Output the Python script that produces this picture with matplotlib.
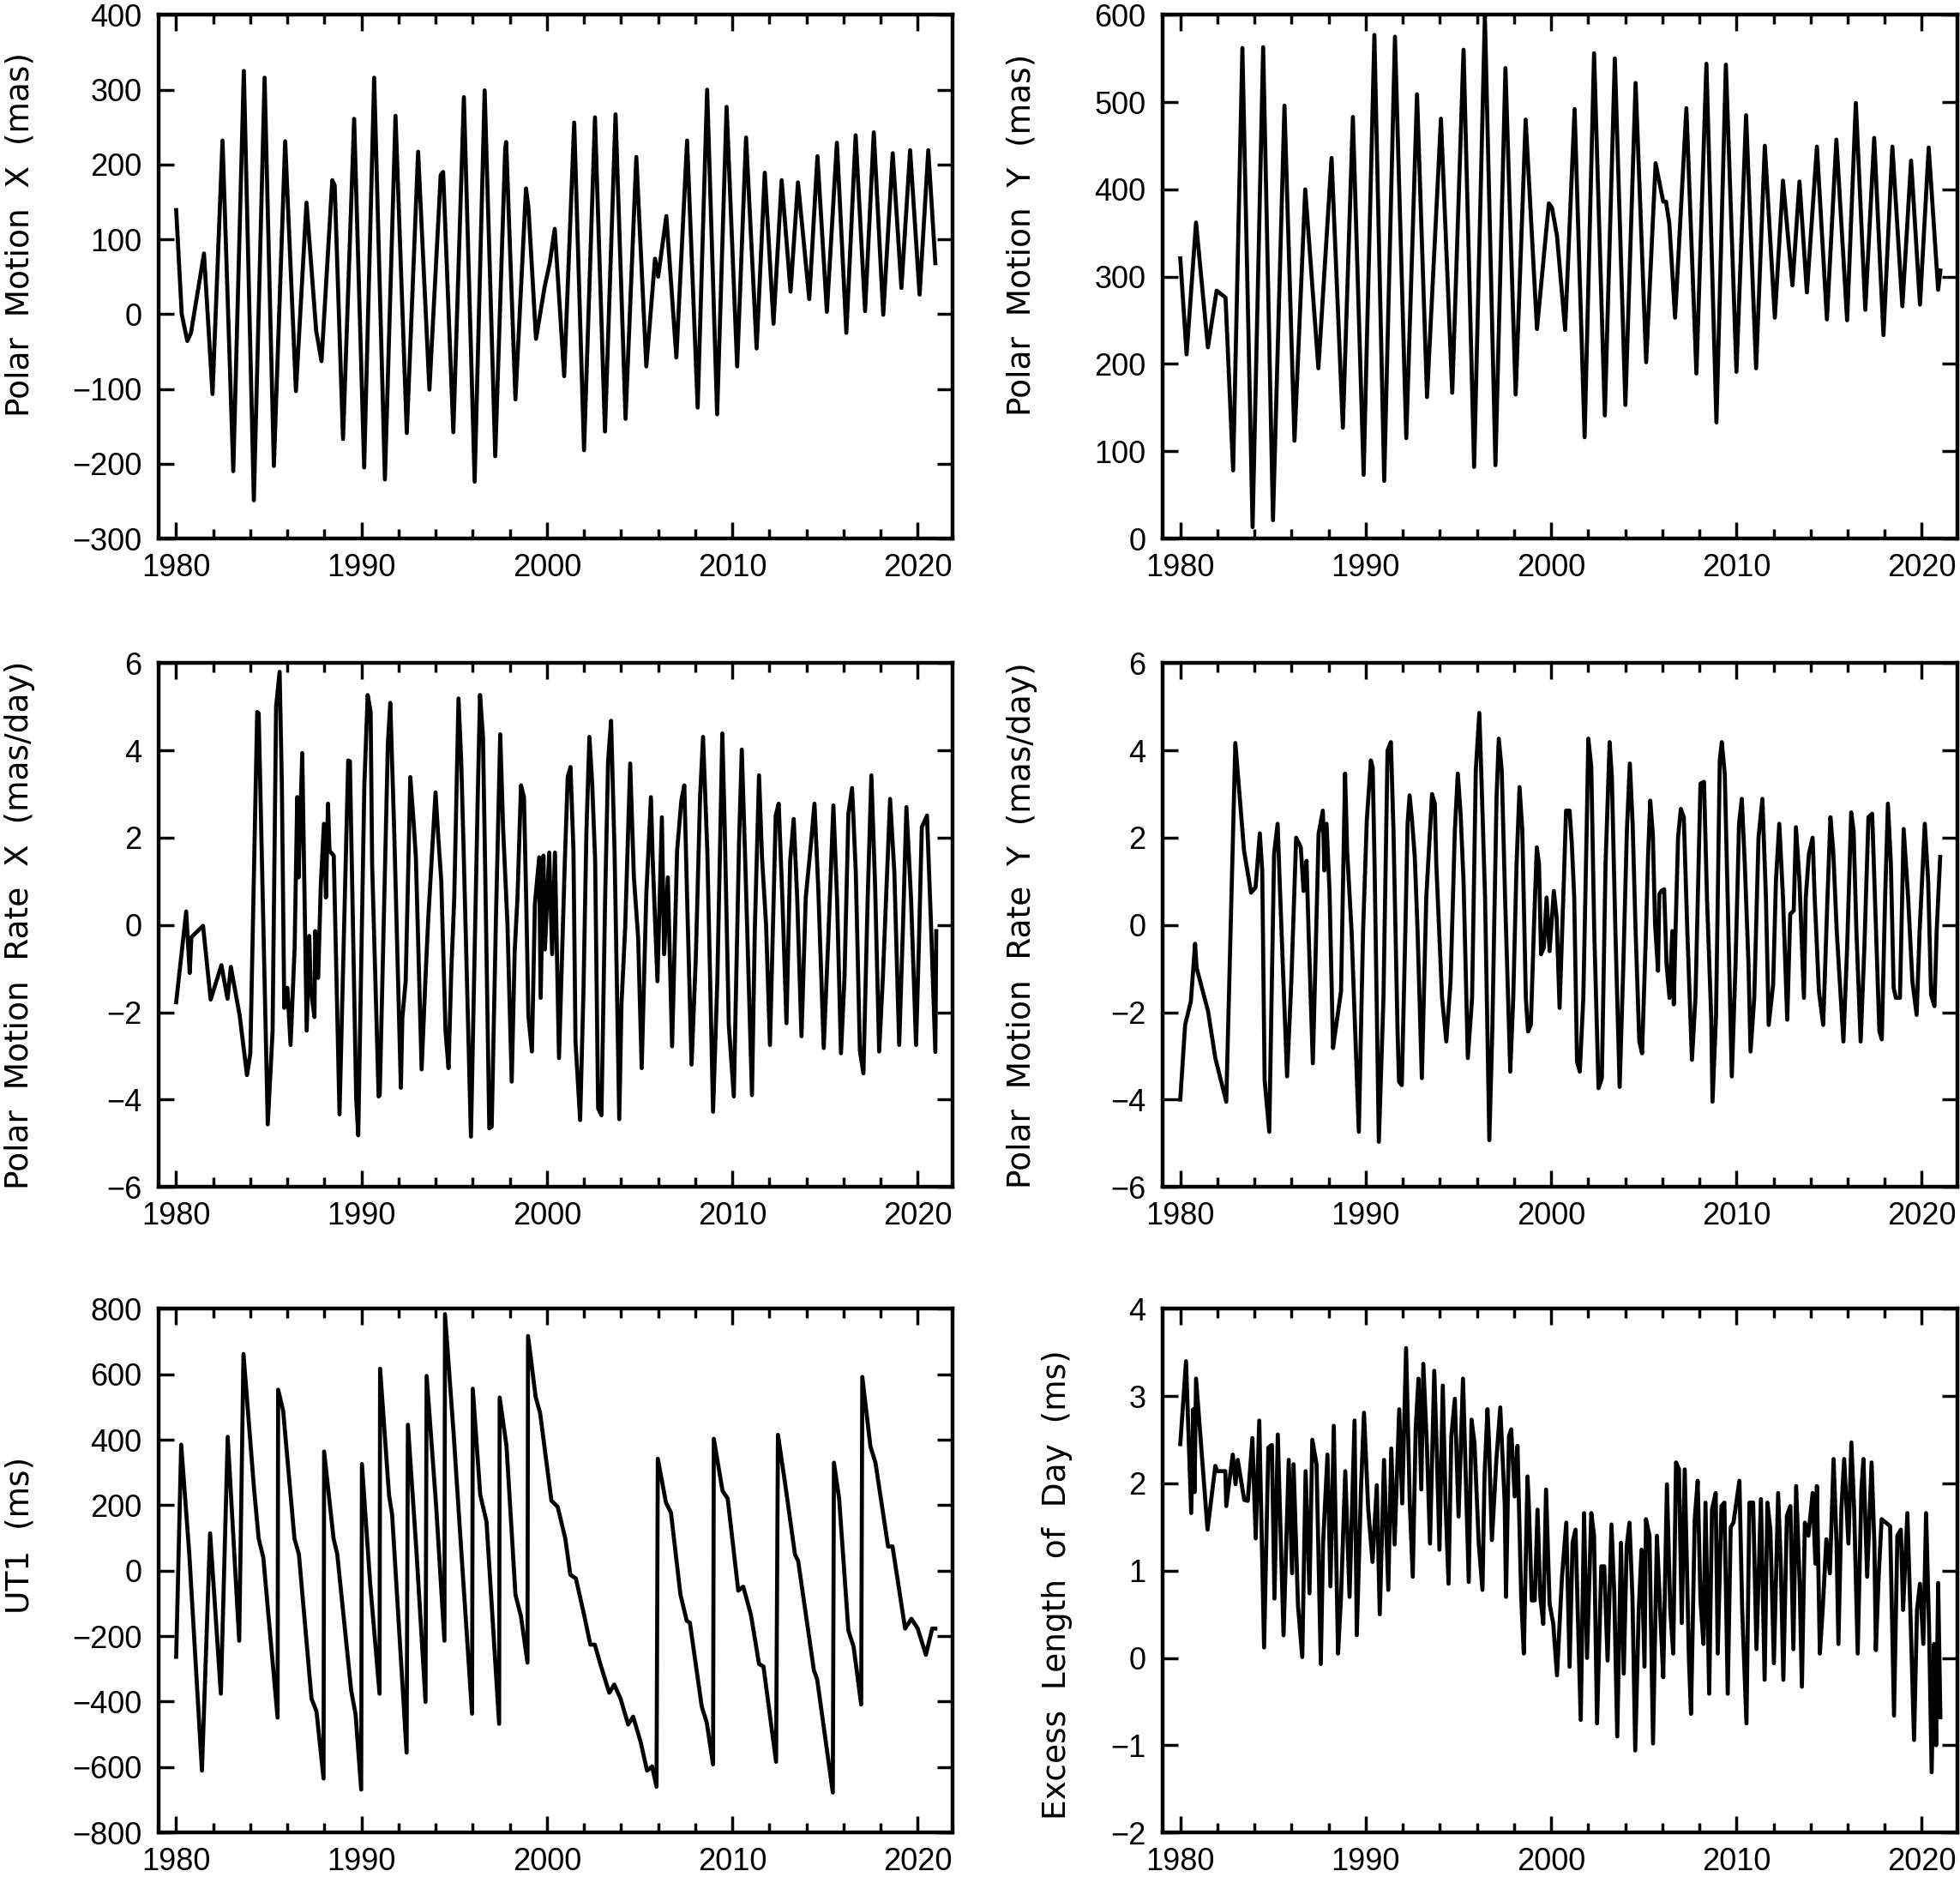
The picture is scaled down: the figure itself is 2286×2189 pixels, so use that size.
import matplotlib
matplotlib.use("Agg")
import matplotlib.pyplot as plt
from matplotlib import font_manager
from matplotlib.ticker import MultipleLocator

# Polar motion X (mas), extrema
pmx_t = [1980.0, 1980.3, 1980.6, 1980.8, 1981.5, 1981.96, 1982.5, 1983.08, 1983.65, 1984.19,
         1984.77, 1985.27, 1985.88, 1986.46, 1987.03, 1987.55, 1987.84, 1988.42, 1988.55, 1989.0,
         1989.6, 1990.14, 1990.68, 1991.26, 1991.83, 1992.44, 1993.05, 1993.66, 1994.27, 1994.4,
         1994.95, 1995.52, 1996.1, 1996.64, 1997.21, 1997.75, 1997.8, 1998.3, 1998.87, 1999.0,
         1999.41, 1999.88, 2000.15, 2000.42, 2000.93, 2001.47, 2002.0, 2002.59, 2003.13, 2003.7,
         2004.24, 2004.82, 2005.36, 2005.83, 2006.0, 2006.44, 2006.98, 2007.56, 2008.13, 2008.64,
         2009.18, 2009.69, 2010.26, 2010.74, 2011.31, 2011.75, 2012.22, 2012.66, 2013.14, 2013.54,
         2014.15, 2014.59, 2015.1, 2015.64, 2016.15, 2016.65, 2017.16, 2017.63, 2018.14, 2018.65,
         2019.12, 2019.59, 2020.1, 2020.57, 2020.95]
pmx_v = [139, 0, -36, -25, 81, -107, 232, -210, 325, -249,
         316, -203, 231, -103, 149, -22, -63, 179, 172, -167,
         261, -205, 316, -221, 265, -159, 217, -101, 186, 190,
         -158, 290, -224, 299, -190, 222, 230, -114, 168, 143,
         -33, 37, 68, 114, -83, 256, -182, 263, -157, 267,
         -140, 210, -70, 74, 50, 131, -58, 232, -125, 300,
         -134, 277, -70, 236, -46, 189, -13, 179, 30, 176,
         20, 211, 3, 229, -25, 239, 4, 243, -1, 215,
         35, 219, 26, 219, 68]

# Polar motion Y (mas)
pmy_t = [1980.0, 1980.34, 1980.85, 1981.49, 1981.96, 1982.44, 1982.85, 1983.35, 1983.9, 1984.47,
         1985.0, 1985.62, 1986.16, 1986.74, 1987.45, 1988.16, 1988.77, 1989.31, 1989.89, 1990.47,
         1991.0, 1991.58, 1992.19, 1992.77, 1993.31, 1994.06, 1994.67, 1995.28, 1995.85, 1996.43,
         1997.0, 1997.54, 1998.09, 1998.63, 1999.24, 1999.88, 2000.05, 2000.32, 2000.76, 2001.27,
         2001.81, 2002.32, 2002.9, 2003.44, 2004.01, 2004.56, 2005.13, 2005.64, 2006.05, 2006.2,
         2006.38, 2006.69, 2007.3, 2007.84, 2008.38, 2008.92, 2009.43, 2010.0, 2010.52, 2011.06,
         2011.53, 2012.07, 2012.51, 2013.02, 2013.4, 2013.8, 2014.34, 2014.88, 2015.39, 2015.97,
         2016.44, 2016.95, 2017.43, 2017.93, 2018.41, 2018.95, 2019.42, 2019.9, 2020.37, 2020.88,
         2021.0]
pmy_v = [321, 211, 362, 219, 284, 276, 78, 562, 13, 563,
         21, 496, 112, 400, 195, 436, 127, 483, 73, 577,
         66, 575, 115, 509, 162, 481, 167, 560, 82, 600,
         84, 539, 165, 480, 240, 384, 379, 347, 239, 492,
         116, 556, 141, 550, 153, 522, 202, 430, 386, 386,
         361, 253, 493, 189, 544, 133, 543, 191, 485, 195,
         450, 253, 410, 290, 409, 282, 449, 251, 457, 250,
         499, 262, 459, 233, 449, 266, 433, 268, 448, 285,
         307]

# Polar motion rate X (mas/day)
rx_t = [1980.0, 1980.54, 1980.73, 1980.82, 1981.45, 1981.86, 1982.44, 1982.77, 1982.95, 1983.42,
        1983.82, 1984.0, 1984.37, 1984.45, 1984.94, 1985.2, 1985.39, 1985.58, 1985.7, 1985.83,
        1986.0, 1986.17, 1986.39, 1986.53, 1986.6, 1986.8, 1987.04, 1987.18, 1987.26, 1987.46,
        1987.5, 1987.66, 1987.8, 1987.97, 1988.08, 1988.19, 1988.27, 1988.5, 1988.81, 1989.28,
        1989.37, 1989.71, 1989.82, 1990.15, 1990.33, 1990.49, 1990.57, 1990.92, 1990.98, 1991.42,
        1991.55, 1991.76, 1992.12, 1992.2, 1992.38, 1992.63, 1992.79, 1992.93, 1993.24, 1993.44,
        1993.6, 1993.99, 1994.14, 1994.3, 1994.53, 1994.69, 1994.84, 1995.0, 1995.23, 1995.38,
        1995.5, 1995.9, 1996.05, 1996.27, 1996.39, 1996.55, 1996.67, 1996.89, 1997.02, 1997.25,
        1997.48, 1997.64, 1997.87, 1998.1, 1998.26, 1998.41, 1998.6, 1998.76, 1998.88, 1999.0,
        1999.19, 1999.35, 1999.58, 1999.66, 1999.81, 1999.89, 2000.12, 2000.28, 2000.43, 2000.65,
        2000.81, 2000.96, 2001.12, 2001.27, 2001.43, 2001.54, 2001.79, 2001.97, 2002.13, 2002.29,
        2002.44, 2002.6, 2002.76, 2002.94, 2003.14, 2003.3, 2003.46, 2003.65, 2003.9, 2004.02,
        2004.22, 2004.49, 2004.69, 2004.92, 2005.11, 2005.36, 2005.61, 2005.7, 2005.96, 2006.2,
        2006.32, 2006.52, 2006.75, 2007.02, 2007.25, 2007.41, 2007.56, 2007.8, 2008.03, 2008.26,
        2008.42, 2008.65, 2008.96, 2009.19, 2009.46, 2009.58, 2009.81, 2010.08, 2010.36, 2010.51,
        2010.7, 2011.06, 2011.21, 2011.44, 2011.6, 2011.82, 2012.03, 2012.34, 2012.5, 2012.7,
        2012.92, 2013.12, 2013.31, 2013.5, 2013.73, 2013.96, 2014.24, 2014.43, 2014.63, 2014.93,
        2015.17, 2015.45, 2015.65, 2015.86, 2016.05, 2016.26, 2016.46, 2016.66, 2016.88, 2017.07,
        2017.3, 2017.5, 2017.7, 2017.92, 2018.12, 2018.51, 2018.74, 2019.0, 2019.2, 2019.39,
        2019.64, 2019.91, 2020.06, 2020.22, 2020.5, 2020.7, 2020.95, 2021.0]
rx_v = [-1.77, 0.31, -1.10, -0.28, -0.02, -1.71, -0.92, -1.69, -0.96, -2.06,
        -3.44, -2.94, 4.88, 4.85, -4.57, -2.44, 5.0, 5.8, 3.24, -1.9,
        -1.44, -2.75, -0.52, 2.93, 1.09, 3.94, -2.42, -0.25, -1.48, -2.11,
        -0.14, -1.21, 0.90, 2.32, 0.63, 2.78, 1.70, 1.59, -4.34, 3.77,
        3.75, -3.97, -4.82, 3.2, 5.27, 4.88, 1.40, -3.93, -3.9, 4.16,
        5.09, 2.16, -3.73, -2.13, -1.29, 3.39, 2.47, 1.55, -3.31, -1.29,
        0.17, 3.04, 2.0, 1.01, -2.44, -3.28, -1.06, 0.63, 5.19, 3.7,
        1.8, -4.85, -1.71, 3.0, 5.27, 4.31, 1.2, -4.66, -4.62, 0.17,
        4.37, 2.16, 0.02, -3.59, -0.6, 0.63, 3.2, 2.93, 0.6, -2.09,
        -2.9, 0.48, 1.55, -1.67, 1.59, -0.56, 1.66, -0.67, 1.66, -3.05,
        -0.75, 1.4, 3.39, 3.62, 1.7, -2.67, -4.47, -1.52, 2.16, 4.31,
        3.24, 1.47, -4.2, -4.36, 0.63, 3.77, 4.68, 1.63, -4.45, -1.82,
        -0.06, 3.7, 1.09, -0.29, -3.28, 0.71, 2.93, 1.55, -1.29, 2.47,
        -0.67, 1.09, -2.78, 1.7, 2.85, 3.2, 0.63, -3.2, -0.75, 2.93,
        4.31, 1.7, -4.28, -1.29, 4.39, 2.39, -2.29, -3.93, 1.86, 4.02,
        1.4, -3.9, -0.14, 3.43, 1.55, 0.0, -2.75, 2.51, 2.78, 0.6,
        -2.25, 1.47, 2.43, 0.6, -2.55, 0.63, 1.86, 2.78, 0.9, -2.82,
        -0.37, 2.74, 0.6, -2.94, -1.2, 2.55, 3.14, 1.2, -2.88, -3.4,
        0.6, 3.43, 0.9, -2.9, -1.2, 2.89, 1.2, -2.75, -0.1, 2.7,
        0.6, -2.75, -0.5, 2.24, 2.51, 0.2, -2.91, -0.14]

# Polar motion rate Y (mas/day)
ry_t = [1980.0, 1980.26, 1980.57, 1980.8, 1980.88, 1981.5, 1981.89, 1982.48, 1982.97, 1983.44,
        1983.82, 1984.06, 1984.29, 1984.42, 1984.55, 1984.8, 1985.06, 1985.25, 1985.4, 1985.76,
        1985.99, 1986.25, 1986.5, 1986.65, 1986.81, 1986.92, 1987.15, 1987.26, 1987.46, 1987.69,
        1987.77, 1987.89, 1988.05, 1988.24, 1988.39, 1988.67, 1988.78, 1988.89, 1989.0, 1989.24,
        1989.63, 1989.86, 1990.06, 1990.28, 1990.38, 1990.48, 1990.71, 1990.96, 1991.18, 1991.36,
        1991.5, 1991.72, 1991.8, 1991.95, 1992.14, 1992.26, 1992.37, 1992.5, 1992.65, 1992.8,
        1993.03, 1993.27, 1993.58, 1993.73, 1993.81, 1994.12, 1994.35, 1994.58, 1994.81, 1994.97,
        1995.12, 1995.28, 1995.51, 1995.74, 1995.94, 1996.13, 1996.25, 1996.44, 1996.67, 1996.83,
        1997.06, 1997.18, 1997.34, 1997.52, 1997.8, 1997.96, 1998.14, 1998.3, 1998.45, 1998.64,
        1998.76, 1998.91, 1999.07, 1999.23, 1999.35, 1999.46, 1999.61, 1999.76, 1999.92, 2000.15,
        2000.3, 2000.46, 2000.69, 2000.81, 2001.0, 2001.12, 2001.25, 2001.4, 2001.55, 2001.74,
        2001.92, 2002.01, 2002.17, 2002.33, 2002.56, 2002.74, 2002.94, 2003.16, 2003.28, 2003.47,
        2003.7, 2003.9, 2004.09, 2004.25, 2004.4, 2004.56, 2004.76, 2004.91, 2005.12, 2005.23,
        2005.35, 2005.49, 2005.61, 2005.77, 2005.84, 2005.95, 2006.1, 2006.23, 2006.39, 2006.54,
        2006.62, 2006.7, 2006.85, 2007.0, 2007.16, 2007.35, 2007.6, 2007.79, 2008.06, 2008.25,
        2008.41, 2008.64, 2008.71, 2008.9, 2009.1, 2009.21, 2009.37, 2009.57, 2009.75, 2009.95,
        2010.14, 2010.29, 2010.45, 2010.65, 2010.76, 2010.96, 2011.19, 2011.4, 2011.59, 2011.74,
        2011.98, 2012.13, 2012.31, 2012.51, 2012.74, 2012.9, 2013.09, 2013.21, 2013.4, 2013.64,
        2013.74, 2013.91, 2014.11, 2014.22, 2014.45, 2014.68, 2014.91, 2015.07, 2015.22, 2015.41,
        2015.77, 2015.97, 2016.19, 2016.32, 2016.47, 2016.7, 2016.9, 2017.12, 2017.32, 2017.47,
        2017.71, 2017.84, 2018.02, 2018.17, 2018.33, 2018.48, 2018.6, 2018.82, 2019.02, 2019.26,
        2019.49, 2019.72, 2019.88, 2020.16, 2020.34, 2020.5, 2020.68, 2020.8, 2020.99]
ry_v = [-4.0, -2.29, -1.75, -0.43, -0.98, -1.98, -3.05, -4.05, 4.17, 1.70,
        0.74, 0.86, 2.1, 1.25, -3.55, -4.74, 1.63, 2.32, 0.55, -3.47,
        -1.29, 2.0, 1.78, 0.78, 1.47, -0.14, -3.17, -1.36, 2.09, 2.62,
        1.25, 2.32, 0.78, -2.82, -2.36, -1.52, 0.94, 3.47, 1.7, -0.14,
        -4.74, -0.14, 2.39, 3.77, 3.6, 1.4, -4.97, -1.67, 4.0, 4.19,
        2.16, -2.44, -3.59, -3.67, -0.14, 2.32, 2.97, 2.4, 1.55, -0.14,
        -3.51, 0.63, 3.0, 2.78, 1.4, -1.67, -2.67, -1.29, 2.16, 3.47,
        2.55, 1.0, -3.05, -1.67, 3.54, 4.86, 3.31, 0.63, -4.93, -2.44,
        2.93, 4.27, 3.54, 0.63, -3.36, -1.67, 1.4, 3.16, 2.16, -1.67,
        -2.44, -2.29, -0.14, 1.78, 1.4, -0.67, -0.52, 0.63, -0.6, 0.78,
        0.17, -1.9, 1.01, 2.62, 2.62, 1.86, 0.63, -3.13, -3.36, -1.67,
        2.16, 4.27, 3.62, -0.14, -3.74, -3.51, 1.4, 4.19, 3.39, -0.14,
        -3.71, -0.9, 2.16, 3.70, 2.32, -0.14, -2.67, -2.94, -0.14, 1.55,
        2.85, 2.08, 0.02, -1.05, 0.71, 0.78, 0.82, -0.9, -1.67, -0.14,
        -1.82, -0.37, 2.0, 2.66, 2.47, -0.14, -3.09, -1.67, 3.24, 3.28,
        0.63, -2.13, -4.05, -2.06, 3.77, 4.19, 3.46, -0.14, -3.47, -0.9,
        2.32, 2.89, 1.4, -0.9, -2.9, -1.67, 2.0, 2.89, 0.63, -2.29,
        -1.36, 1.01, 2.32, 0.63, -2.17, 0.25, 0.33, 2.24, 1.01, -1.67,
        0.63, 1.63, 2.0, 0.63, -1.52, -2.29, 0.63, 2.47, 1.7, -0.14,
        -2.67, -0.52, 2.58, 2.16, -0.14, -2.67, -0.52, 2.47, 2.55, 0.63,
        -2.44, -2.62, 0.63, 2.78, 1.4, -1.44, -1.67, -1.67, 2.2, 0.63,
        -1.29, -2.06, -0.14, 2.32, 1.01, -1.6, -1.86, -0.14, 1.56]

# UT1 (ms)
ut1_t = [1980.0, 1980.27, 1980.71, 1981.39, 1981.83, 1982.41, 1982.78, 1983.4, 1983.63, 1984.2,
         1984.45, 1984.7, 1985.47, 1985.5, 1985.77, 1986.38, 1986.62, 1987.3, 1987.57, 1987.95,
         1987.98, 1988.49, 1988.69, 1989.44, 1989.68, 1989.98, 1990.02, 1990.46, 1990.97, 1991.0,
         1991.48, 1991.65, 1992.43, 1992.5, 1992.96, 1993.45, 1993.51, 1994.02, 1994.47, 1994.5,
         1994.97, 1995.38, 1995.96, 1996.0, 1996.4, 1996.74, 1997.42, 1997.45, 1997.82, 1998.3,
         1998.6, 1998.95, 1998.98, 1999.39, 1999.63, 2000.24, 2000.58, 2000.99, 2001.26, 2001.56,
         2002.0, 2002.34, 2002.58, 2002.92, 2003.36, 2003.63, 2003.97, 2004.38, 2004.65, 2005.06,
         2005.4, 2005.67, 2005.91, 2005.98, 2006.42, 2006.69, 2007.2, 2007.54, 2007.71, 2008.35,
         2008.62, 2008.96, 2009.0, 2009.47, 2009.75, 2010.32, 2010.59, 2011.0, 2011.44, 2011.68,
         2012.36, 2012.46, 2012.87, 2013.38, 2013.55, 2014.4, 2014.57, 2015.42, 2015.48, 2015.76,
         2016.26, 2016.54, 2016.95, 2017.01, 2017.45, 2017.72, 2018.4, 2018.64, 2019.32, 2019.66,
         2020.0, 2020.44, 2020.78, 2020.95]
ut1_v = [-263, 385, 49, -611, 114, -376, 409, -214, 662, 250,
         98, 40, -449, 553, 489, 98, 50, -391, -430, -635,
         364, 98, 50, -366, -440, -669, 326, -37, -376, 617,
         232, 170, -556, 446, 60, -401, 595, 200, -214, 784,
         415, 60, -437, 556, 232, 150, -468, 529, 380, -73,
         -140, -281, 717, 531, 482, 214, 195, 98, -12, -24,
         -134, -226, -226, -293, -373, -348, -391, -470, -446, -525,
         -611, -598, -660, 342, 208, 177, -73, -153, -159, -415,
         -464, -592, 403, 244, 220, -61, -49, -134, -285, -293,
         -584, 415, 257, 49, 30, -305, -330, -678, 330, 220,
         -183, -232, -409, 592, 379, 330, 74, 74, -177, -147,
         -177, -257, -177, -177]

# Excess length of day (ms)
lod_t = [1980.0, 1980.31, 1980.59, 1980.7, 1980.77, 1980.85, 1981.47, 1981.89, 1982.0, 1982.43,
         1982.48, 1982.83, 1982.98, 1983.1, 1983.45, 1983.64, 1983.89, 1984.07, 1984.26, 1984.52,
         1984.75, 1984.94, 1985.08, 1985.26, 1985.57, 1985.85, 1986.03, 1986.11, 1986.35, 1986.58,
         1986.76, 1986.97, 1987.12, 1987.35, 1987.58, 1987.7, 1987.94, 1988.1, 1988.28, 1988.51,
         1988.67, 1988.9, 1989.13, 1989.4, 1989.52, 1989.75, 1989.91, 1990.14, 1990.37, 1990.6,
         1990.76, 1990.99, 1991.22, 1991.38, 1991.56, 1991.81, 1991.97, 1992.18, 1992.38, 1992.54,
         1992.7, 1992.85, 1993.0, 1993.11, 1993.31, 1993.47, 1993.7, 1993.85, 1993.98, 1994.16,
         1994.31, 1994.47, 1994.62, 1994.81, 1995.01, 1995.25, 1995.4, 1995.56, 1995.71, 1995.87,
         1996.1, 1996.3, 1996.41, 1996.57, 1996.65, 1996.81, 1997.05, 1997.26, 1997.5, 1997.57,
         1997.73, 1997.85, 1998.04, 1998.19, 1998.39, 1998.53, 1998.73, 1998.81, 1998.96, 1999.12,
         1999.27, 1999.42, 1999.58, 1999.73, 1999.92, 2000.12, 2000.32, 2000.59, 2000.82, 2001.0,
         2001.16, 2001.32, 2001.6, 2001.78, 2001.94, 2002.17, 2002.32, 2002.48, 2002.71, 2002.87,
         2003.05, 2003.26, 2003.41, 2003.57, 2003.77, 2003.92, 2004.08, 2004.23, 2004.39, 2004.54,
         2004.73, 2004.88, 2005.04, 2005.12, 2005.31, 2005.5, 2005.71, 2005.9, 2006.05, 2006.25,
         2006.43, 2006.59, 2006.74, 2006.9, 2007.05, 2007.21, 2007.44, 2007.55, 2007.75, 2007.91,
         2008.06, 2008.22, 2008.33, 2008.53, 2008.68, 2008.88, 2008.99, 2009.19, 2009.35, 2009.53,
         2009.69, 2009.84, 2010.16, 2010.31, 2010.54, 2010.7, 2010.9, 2011.08, 2011.32, 2011.52,
         2011.67, 2011.83, 2012.02, 2012.25, 2012.4, 2012.53, 2012.72, 2012.91, 2013.07, 2013.22,
         2013.41, 2013.53, 2013.69, 2013.88, 2014.11, 2014.26, 2014.34, 2014.5, 2014.65, 2014.85,
         2015.04, 2015.24, 2015.4, 2015.5, 2015.66, 2015.81, 2016.04, 2016.2, 2016.35, 2016.54,
         2016.74, 2016.85, 2017.05, 2017.29, 2017.44, 2017.52, 2017.67, 2017.83, 2018.06, 2018.29,
         2018.5, 2018.68, 2018.87, 2018.99, 2019.22, 2019.38, 2019.58, 2019.74, 2019.9, 2020.08,
         2020.23, 2020.39, 2020.53, 2020.66, 2020.77, 2020.88, 2021.0]
lod_v = [2.45, 3.40, 1.66, 2.85, 1.9, 3.2, 1.47, 2.2, 2.14, 2.14,
         1.74, 2.33, 1.99, 2.27, 1.81, 1.8, 2.52, 1.37, 2.72, 0.12,
         2.41, 2.44, 0.68, 2.56, 0.26, 2.27, 0.97, 2.22, 0.6, 0.01,
         2.14, 0.74, 2.5, 2.22, -0.07, 1.3, 2.33, 0.82, 2.66, 0.05,
         0.7, 2.14, 0.7, 2.72, 0.26, 1.95, 2.81, 1.7, 1.1, 1.98,
         0.5, 2.27, 0.78, 2.4, 1.3, 2.85, 1.77, 3.55, 1.77, 0.93,
         2.64, 3.2, 1.93, 3.37, 2.39, 1.31, 3.29, 2.27, 1.24, 3.12,
         1.77, 0.85, 2.54, 2.97, 1.62, 3.2, 2.08, 0.87, 2.73, 2.46,
         1.31, 0.78, 2.08, 2.85, 2.5, 1.35, 2.27, 2.87, 1.77, 0.7,
         2.54, 2.62, 1.85, 2.43, 0.7, 0.05, 2.08, 1.7, 0.66, 0.66,
         1.7, 0.7, 0.39, 1.93, 0.62, 0.39, -0.2, 0.93, 1.55, -0.1,
         1.32, 1.47, -0.71, 1.66, 0.0, 1.66, 1.4, -0.75, 1.05, 1.05,
         -0.03, 1.53, 0.74, -0.9, 1.32, -0.18, 1.28, 1.55, 0.7, -1.06,
         0.55, 1.24, -0.1, 1.59, 1.4, -0.98, 1.4, 0.47, -0.22, 1.99,
         0.55, 0.05, 2.24, 2.16, 0.4, 2.16, -0.04, -0.64, 1.59, 2.03,
         0.66, 0.16, 1.78, -0.41, 1.7, 1.89, 0.05, 1.74, 1.78, -0.41,
         1.5, 1.55, 2.03, 0.55, -0.75, 1.78, 1.78, 0.1, 1.82, -0.25,
         1.78, 1.47, -0.06, 1.89, 1.01, -0.25, 1.63, 1.74, 0.1, 1.97,
         0.85, -0.33, 1.55, 1.4, 1.89, 1.08, 1.97, 0.05, 0.55, 1.36,
         0.97, 2.28, 1.31, 0.16, 1.7, 2.28, 1.31, 2.47, 1.7, 0.05,
         1.93, 2.28, 0.93, 2.24, 1.31, 0.09, 0.93, 1.59, 1.55, 1.51,
         -0.66, 1.4, 1.47, 0.55, 1.66, 0.55, -0.94, 0.55, 0.85, 0.16,
         1.66, 0.35, -1.31, 0.16, -1.0, 0.86, -0.68]

panels = [
    (pmx_t, pmx_v, (-300, 400), 100, "Polar  Motion  X  (mas)", (-0.155, 0.58)),
    (pmy_t, pmy_v, (0, 600), 100, "Polar  Motion  Y  (mas)", (-0.158, 0.58)),
    (rx_t, rx_v, (-6, 6), 2, "Polar  Motion  Rate  X  (mas/day)", (-0.155, 0.5)),
    (ry_t, ry_v, (-6, 6), 2, "Polar  Motion  Rate  Y  (mas/day)", (-0.158, 0.5)),
    (ut1_t, ut1_v, (-800, 800), 200, "UT1  (ms)", (-0.155, 0.568)),
    (lod_t, lod_v, (-2, 4), 1, "Excess  Length  of  Day  (ms)", (-0.113, 0.473)),
]

lefts = [0.0809, 0.5932]
bottoms = [0.7131, 0.3677, 0.0237]
width, height = 0.4053, 0.2790


def pick_font(names):
    for name in names:
        try:
            font_manager.findfont(name, fallback_to_default=False)
            return name
        except Exception:
            pass
    return 'DejaVu Sans'


tick_font = pick_font(['Liberation Sans Narrow', 'Liberation Sans', 'Arial'])
tick_size = 31 if tick_font == 'Liberation Sans Narrow' else 26
plt.rcParams['font.family'] = [tick_font, 'DejaVu Sans']

fig = plt.figure(figsize=(22.86, 21.89), dpi=100)

for i, (t, v, ylim, ystep, label, lab_pos) in enumerate(panels):
    ax = fig.add_axes([lefts[i % 2], bottoms[i // 2], width, height])
    ax.plot(t, v, color='black', linewidth=3.4, solid_joinstyle='round')
    ax.set_xlim(1979.05, 2021.9)
    ax.set_ylim(*ylim)
    ax.xaxis.set_major_locator(MultipleLocator(10))
    ax.xaxis.set_minor_locator(MultipleLocator(2))
    ax.yaxis.set_major_locator(MultipleLocator(ystep))
    ax.tick_params(axis='both', which='both', direction='in', top=True, right=True,
                   width=2.5, labelsize=tick_size)
    ax.tick_params(axis='x', which='major', length=14, pad=12)
    ax.tick_params(axis='x', which='minor', length=8)
    ax.tick_params(axis='y', which='major', length=13, pad=14)
    for sp in ax.spines.values():
        sp.set_linewidth(3.2)
    ax.set_ylabel(label, fontsize=27, family=['DejaVu Sans'])
    ax.yaxis.set_label_coords(*lab_pos)

fig.savefig("out.png", dpi=100)
